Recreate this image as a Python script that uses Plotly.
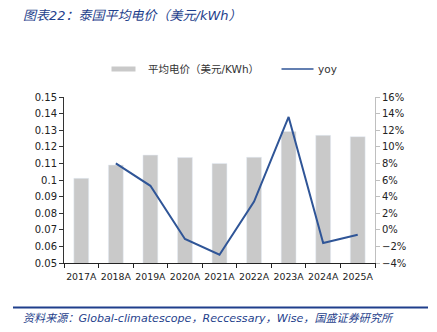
import plotly.graph_objects as go

# Thailand average electricity price and year-on-year change
years = ["2017A", "2018A", "2019A", "2020A", "2021A", "2022A", "2023A", "2024A", "2025A"]
price_usd_kwh = [0.101, 0.109, 0.115, 0.1135, 0.110, 0.1137, 0.1292, 0.1269, 0.1261]
yoy_pct = [None, 8.0, 5.3, -1.1, -3.0, 3.4, 13.6, -1.6, -0.6]

left_ticks = [0.05, 0.06, 0.07, 0.08, 0.09, 0.10, 0.11, 0.12, 0.13, 0.14, 0.15]
left_labels = ["0.05", "0.06", "0.07", "0.08", "0.09", "0.1", "0.11", "0.12", "0.13", "0.14", "0.15"]

title_text = "图表22：泰国平均电价（美元/kWh）"
source_text = "资料来源：Global-climatescope，Reccessary，Wise，国盛证券研究所"
bar_name = "平均电价（美元/KWh）"
line_name = "yoy"

W, H = 437, 332
ML, MR, MT, MB = 64, 62, 97, 69
PW, PH = W - ML - MR, H - MT - MB

BAR_COLOR = "#c9c9c9"
LINE_COLOR = "#2f5597"
NAVY = "#1f3f8c"
FONT = "DejaVu Sans, Noto Sans CJK SC, sans-serif"


def px_x(x):
    return (x - ML) / PW


def px_y(y):
    return 1 - (y - MT) / PH


fig = go.Figure()
fig.add_trace(go.Bar(x=years, y=price_usd_kwh, name=bar_name, marker_color=BAR_COLOR,
                     yaxis="y", showlegend=False))
fig.add_trace(go.Scatter(x=years, y=yoy_pct, name=line_name, mode="lines",
                         line=dict(color=LINE_COLOR, width=2), yaxis="y2",
                         showlegend=False, connectgaps=False))

shapes = [
    # legend swatches
    dict(type="rect", xref="paper", yref="paper",
         x0=px_x(111.5), x1=px_x(135.5), y0=px_y(71.5), y1=px_y(66.5),
         fillcolor=BAR_COLOR, line=dict(width=0)),
    dict(type="line", xref="paper", yref="paper",
         x0=px_x(281.5), x1=px_x(313.5), y0=px_y(69), y1=px_y(69),
         line=dict(color=LINE_COLOR, width=1.5)),
    # rule above the source note
    dict(type="line", xref="paper", yref="paper",
         x0=px_x(13), x1=px_x(428), y0=px_y(307.5), y1=px_y(307.5),
         line=dict(color=NAVY, width=1.8)),
]

annotations = [
    dict(text="<i>" + title_text + "</i>", xref="paper", yref="paper",
         x=px_x(21), y=px_y(16), xanchor="left", yanchor="middle", showarrow=False,
         font=dict(family=FONT, size=13, color=NAVY)),
    dict(text=bar_name, xref="paper", yref="paper",
         x=px_x(146), y=px_y(69), xanchor="left", yanchor="middle", showarrow=False,
         font=dict(family=FONT, size=10.5, color="#333333")),
    dict(text=line_name, xref="paper", yref="paper",
         x=px_x(316), y=px_y(69), xanchor="left", yanchor="middle", showarrow=False,
         font=dict(family=FONT, size=10.5, color="#333333")),
    dict(text="<i>" + source_text + "</i>", xref="paper", yref="paper",
         x=px_x(21), y=px_y(318.5), xanchor="left", yanchor="middle", showarrow=False,
         font=dict(family=FONT, size=11.1, color=NAVY)),
]

fig.update_layout(
    width=W, height=H,
    margin=dict(l=ML, r=MR, t=MT, b=MB, pad=0),
    paper_bgcolor="white", plot_bgcolor="white",
    font=dict(family=FONT, size=10, color="#222222"),
    bargap=0.57,
    showlegend=False,
    xaxis=dict(
        type="category", showgrid=False, showline=True, linecolor="#222222", linewidth=1,
        ticks="outside", tickson="boundaries", ticklen=4, tickcolor="#222222",
        tickangle=0, ticklabelstandoff=5, tickfont=dict(size=9.4, color="#222222"),
        zeroline=False,
    ),
    yaxis=dict(
        range=[0.05, 0.15], tickvals=left_ticks, ticktext=left_labels,
        showgrid=False, showline=True, linecolor="#333333", linewidth=1,
        ticks="outside", ticklen=4, tickcolor="#333333", zeroline=False,
        tickfont=dict(size=10, color="#222222"),
    ),
    yaxis2=dict(
        overlaying="y", side="right", range=[-4, 16], dtick=2, ticksuffix="%",
        showgrid=False, showline=True, linecolor="#bfbfbf", linewidth=1,
        ticks="outside", ticklen=4, tickcolor="#bfbfbf", zeroline=False,
        tickfont=dict(size=10, color="#222222"),
    ),
    shapes=shapes,
    annotations=annotations,
)

fig.write_html("out.html")
